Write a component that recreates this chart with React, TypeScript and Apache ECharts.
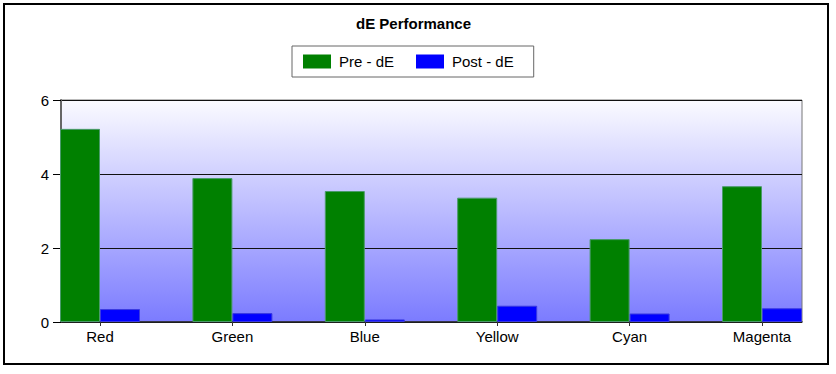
import React, { useEffect, useRef } from "react";
import * as echarts from "echarts";

const categories = ["Red", "Green", "Blue", "Yellow", "Cyan", "Magenta"];
const preDE = [5.22, 3.89, 3.54, 3.36, 2.24, 3.67];
const postDE = [0.35, 0.24, 0.07, 0.44, 0.23, 0.37];
const yTicks = { min: 0, max: 6, interval: 2 };

const FONT = "'Liberation Sans', Arial, sans-serif";

export default function App() {
  const ref = useRef<HTMLDivElement>(null);
  useEffect(() => {
    document.body.style.margin = "0";
    const chart = echarts.init(ref.current!, null, { renderer: "svg" });
    chart.setOption({
      animation: false,
      backgroundColor: "#ffffff",
      textStyle: { fontFamily: FONT },
      title: {
        text: "dE Performance",
        left: 356,
        top: 16,
        padding: 0,
        textStyle: { fontFamily: FONT, fontSize: 15, fontWeight: "bold", color: "#000" },
      },
      legend: {
        left: 292,
        top: 46,
        padding: [8, 20, 8, 11],
        itemWidth: 28,
        itemHeight: 14,
        itemGap: 22,
        icon: "rect",
        borderColor: "#666",
        borderWidth: 1,
        backgroundColor: "#fff",
        itemStyle: { borderWidth: 0 },
        textStyle: { fontFamily: FONT, fontSize: 15, color: "#000", padding: [0, 0, 0, 3] },
        data: ["Pre - dE", "Post - dE"],
      },
      graphic: [
        {
          type: "rect",
          shape: { x: 4, y: 4, width: 824, height: 360 },
          style: { fill: "none", stroke: "#000", lineWidth: 2 },
          z: 100,
        },
      ],
      grid: [
        {
          left: 61,
          right: 34,
          top: 100,
          bottom: 52,
          show: true,
          borderColor: "#777",
          borderWidth: 1,
          backgroundColor: {
            type: "linear",
            x: 0,
            y: 0,
            x2: 0,
            y2: 1,
            colorStops: [
              { offset: 0, color: "#fbfbff" },
              { offset: 1, color: "#7b7bff" },
            ],
          },
        },
        { left: 100, right: 74, top: 100, bottom: 52 },
      ],
      xAxis: [
        {
          gridIndex: 0,
          type: "value",
          min: 0,
          max: 1,
          axisLine: { show: true, lineStyle: { color: "#222", width: 1.5 } },
          axisTick: { show: false },
          axisLabel: { show: false },
          splitLine: { show: false },
        },
        {
          gridIndex: 1,
          type: "category",
          data: categories,
          boundaryGap: false,
          axisLine: { show: false },
          axisTick: { show: true, length: 4, lineStyle: { color: "#333" } },
          axisLabel: { fontFamily: FONT, fontSize: 15, color: "#000", margin: 7 },
          splitLine: { show: false },
        },
      ],
      yAxis: [
        {
          gridIndex: 0,
          type: "value",
          min: yTicks.min,
          max: yTicks.max,
          interval: yTicks.interval,
          axisLine: { show: true, lineStyle: { color: "#666", width: 2 } },
          axisTick: { show: true, length: 8, lineStyle: { color: "#000" } },
          axisLabel: { fontFamily: FONT, fontSize: 15, color: "#000", margin: 12 },
          splitLine: { show: true, lineStyle: { color: "#111", width: 1 } },
        },
        {
          gridIndex: 1,
          type: "value",
          min: yTicks.min,
          max: yTicks.max,
          interval: yTicks.interval,
          show: false,
          splitLine: { show: false },
        },
      ],
      series: [
        {
          name: "Pre - dE",
          type: "bar",
          xAxisIndex: 1,
          yAxisIndex: 1,
          data: preDE,
          barWidth: 40,
          barGap: "0%",
          itemStyle: { color: "#008000", borderColor: "#4a9a6a", borderWidth: 1 },
        },
        {
          name: "Post - dE",
          type: "bar",
          xAxisIndex: 1,
          yAxisIndex: 1,
          data: postDE,
          barWidth: 40,
          barGap: "0%",
          itemStyle: { color: "#0000ff", borderColor: "#3a3ae0", borderWidth: 1 },
        },
      ],
    });
    return () => chart.dispose();
  }, []);
  return <div ref={ref} style={{ position: "absolute", left: 0, top: 0, width: 836, height: 374 }} />;
}
